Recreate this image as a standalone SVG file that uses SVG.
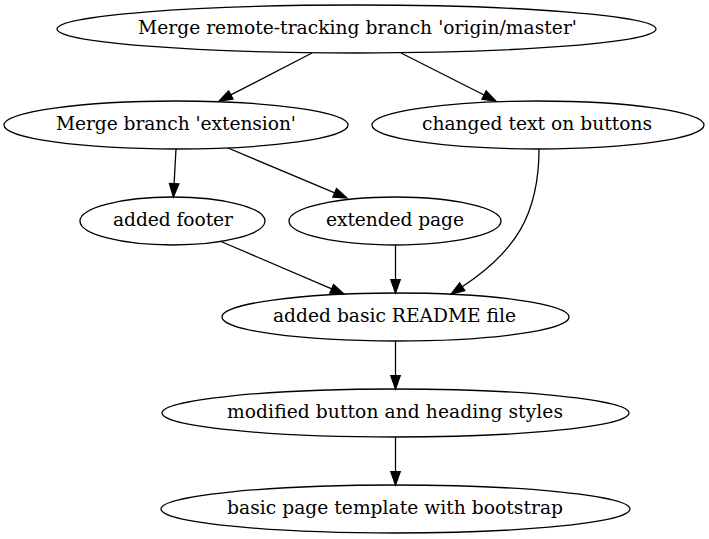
<svg xmlns="http://www.w3.org/2000/svg" width="709" height="539" viewBox="0 0 709 539">
<style>
.node ellipse{fill:none;stroke:#000;stroke-width:1.3}
.node text{font-family:"DejaVu Serif",serif;font-size:18.67px;fill:#000;text-anchor:middle}
.edge path{fill:none;stroke:#000;stroke-width:1.3}
</style>
<defs>
<marker id="arr" markerUnits="userSpaceOnUse" markerWidth="14" markerHeight="10" refX="0" refY="4.67" orient="auto" overflow="visible">
<path d="M0,0 L13.3,4.67 L0,9.34 Z" fill="#000" stroke="#000" stroke-width="1.3"/>
</marker>
</defs>
<rect width="709" height="539" fill="#fff"/>
<g id="edges" class="edge">
<path d="M312,53 L230.8,94.9" marker-end="url(#arr)"/>
<path d="M401,53 L484.1,95" marker-end="url(#arr)"/>
<path d="M176,149 L174.1,183.7" marker-end="url(#arr)"/>
<path d="M228,148 L334.7,192.9" marker-end="url(#arr)"/>
<path d="M221,241.5 L331.7,288.8" marker-end="url(#arr)"/>
<path d="M395.5,245 L395.5,279.7" marker-end="url(#arr)"/>
<path d="M539,149 C539,215 515,252 462.2,286.8" marker-end="url(#arr)"/>
<path d="M395.5,341 L395.5,375.7" marker-end="url(#arr)"/>
<path d="M395.5,437 L395.5,471.7" marker-end="url(#arr)"/>
</g>
<g id="n1" class="node"><ellipse cx="356.5" cy="29" rx="299.5" ry="24"/><text x="357.5" y="34" textLength="439" lengthAdjust="spacing">Merge remote-tracking branch 'origin/master'</text></g>
<g id="n2" class="node"><ellipse cx="176" cy="125" rx="172" ry="24"/><text x="176" y="130" textLength="240" lengthAdjust="spacing">Merge branch 'extension'</text></g>
<g id="n3" class="node"><ellipse cx="538" cy="125" rx="166" ry="24"/><text x="537" y="130" textLength="230" lengthAdjust="spacing">changed text on buttons</text></g>
<g id="n4" class="node"><ellipse cx="172.5" cy="221" rx="92.5" ry="24"/><text x="173" y="226" textLength="120" lengthAdjust="spacing">added footer</text></g>
<g id="n5" class="node"><ellipse cx="395" cy="221" rx="106" ry="24"/><text x="395" y="226" textLength="138" lengthAdjust="spacing">extended page</text></g>
<g id="n6" class="node"><ellipse cx="395.5" cy="317" rx="173.5" ry="24"/><text x="394.5" y="322" textLength="243" lengthAdjust="spacing">added basic README file</text></g>
<g id="n7" class="node"><ellipse cx="395.5" cy="413" rx="233.5" ry="24"/><text x="395" y="418" textLength="336" lengthAdjust="spacing">modified button and heading styles</text></g>
<g id="n8" class="node"><ellipse cx="395.5" cy="509" rx="234.5" ry="24"/><text x="395" y="514" textLength="336" lengthAdjust="spacing">basic page template with bootstrap</text></g>
</svg>
